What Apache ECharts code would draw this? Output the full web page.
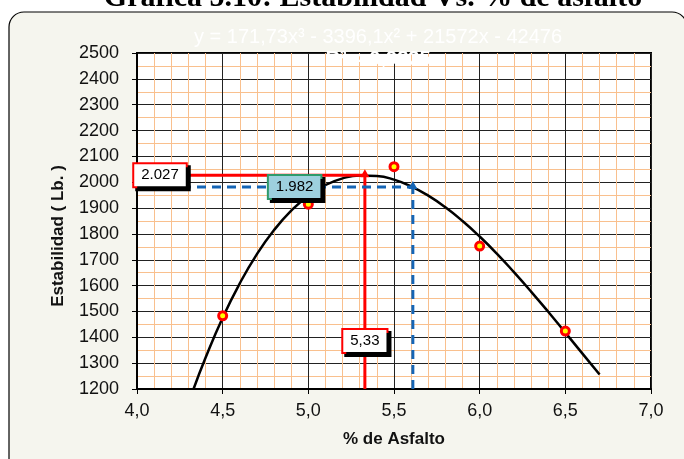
<!DOCTYPE html>
<html>
<head>
<meta charset="utf-8">
<script src="https://cdn.jsdelivr.net/npm/echarts@6/dist/echarts.min.js"></script>
<style>
  html, body { margin: 0; padding: 0; background: #ffffff; }
  #chart { width: 684px; height: 459px; }
</style>
</head>
<body>
<div id="chart"></div>
<script>
// Laboratory results: stability vs. asphalt content
const asphaltPct = [4.5, 5.0, 5.5, 6.0, 6.5];
const stability  = [1483, 1915, 2060, 1753, 1424];

// Cubic trend line
const trendPct  = [4.33, 4.4, 4.5, 4.6, 4.7, 4.8, 4.9, 5.0, 5.1, 5.2, 5.3, 5.4, 5.5,
                   5.6, 5.7, 5.8, 5.9, 6.0, 6.1, 6.2, 6.3, 6.4, 6.5, 6.6, 6.7];
const trendStab = [1200, 1321, 1476, 1609, 1722, 1815, 1890, 1948, 1989, 2015, 2026, 2024, 2010,
                   1984, 1948, 1903, 1850, 1790, 1724, 1652, 1577, 1499, 1418, 1337, 1256];

// Optimum asphalt content (max stability) and design stability
const optimumPct  = 5.33;
const optimumStab = 2027;
const designPct   = 5.61;
const designStab  = 1982;

// Axis settings
const xMin = 4, xMax = 7, xStep = 0.5;
const yMin = 1200, yMax = 2500, yStep = 100;

const equationText = 'y = 171,73x³ - 3396,1x² + 21572x - 42476';
const r2Text = 'R² = 0,9835';
const titleText = 'Gráfica 5.10: Estabilidad Vs. % de asfalto';

const SANS = '"Liberation Sans", Arial, sans-serif';
const SERIF = '"Liberation Serif", "Times New Roman", serif';

const fmtThousands = v => String(v).replace(/\B(?=(\d{3})+(?!\d))/g, '.');
const fmtDecimal = (v, d) => v.toFixed(d).replace('.', ',');

const boxLabel = (text, bg, border, offset) => ({
  show: true,
  position: 'inside',
  offset: offset || [0, 0],
  formatter: text,
  fontFamily: SANS,
  fontSize: 15,
  color: '#000',
  opacity: 1,
  backgroundColor: bg,
  borderColor: border,
  borderWidth: 2,
  padding: [4, 7, 3, 7],
  shadowColor: '#000',
  shadowBlur: 0,
  shadowOffsetX: 3,
  shadowOffsetY: 3
});

const chart = echarts.init(document.getElementById('chart'), null, { renderer: 'canvas' });

const option = {
  animation: false,
  backgroundColor: 'transparent',
  textStyle: { fontFamily: SANS },
  graphic: [
    {
      type: 'rect', z: -100, silent: true,
      shape: { x: 9, y: 12, width: 678, height: 500, r: 15 },
      style: { fill: '#f5f5ee', stroke: '#000', lineWidth: 1.2 }
    },
    {
      type: 'text', z: 100, silent: true, x: 373, y: -2,
      style: { text: titleText, font: 'bold 30px ' + SERIF, fill: '#000',
               align: 'center', verticalAlign: 'middle' }
    },
    {
      type: 'text', z: 100, silent: true, x: 378, y: 37,
      style: { text: equationText, font: '20px ' + SANS, fill: '#ffffff',
               align: 'center', verticalAlign: 'middle' }
    },
    {
      type: 'text', z: 100, silent: true, x: 378, y: 59,
      style: { text: r2Text, font: 'bold 20px ' + SANS, fill: '#ffffff',
               align: 'center', verticalAlign: 'middle' }
    },
    {
      type: 'text', z: 100, silent: true, x: 58, y: 236, rotation: Math.PI / 2,
      style: { text: 'Estabilidad ( Lb. )', font: 'bold 17px ' + SANS, fill: '#111',
               align: 'center', verticalAlign: 'middle' }
    }
  ],
  grid: {
    left: 137, right: 33, top: 53, bottom: 70,
    show: true, backgroundColor: '#ffffff', borderColor: '#000', borderWidth: 2
  },
  xAxis: {
    type: 'value', min: xMin, max: xMax, interval: xStep,
    name: '% de Asfalto', nameLocation: 'middle', nameGap: 42,
    nameTextStyle: { fontFamily: SANS, fontWeight: 'bold', fontSize: 17, color: '#111' },
    axisLine: { show: true, onZero: false, lineStyle: { color: '#000', width: 2 } },
    axisTick: { show: true, length: 5, lineStyle: { color: '#000', width: 1 } },
    axisLabel: { fontFamily: SANS, fontSize: 18, color: '#111', margin: 13,
                 formatter: v => fmtDecimal(v, 1) },
    splitLine: { show: true, lineStyle: { color: '#222', width: 1 } },
    minorTick: { show: false, splitNumber: 5 },
    minorSplitLine: { show: true, lineStyle: { color: '#f9c08e', width: 1 } }
  },
  yAxis: {
    type: 'value', min: yMin, max: yMax, interval: yStep,
    axisLine: { show: true, onZero: false, lineStyle: { color: '#000', width: 2 } },
    axisTick: { show: true, length: 5, lineStyle: { color: '#000', width: 1 } },
    axisLabel: { fontFamily: SANS, fontSize: 18, color: '#111', margin: 18,
                 formatter: v => String(v) },
    splitLine: { show: true, lineStyle: { color: '#222', width: 1 } },
    minorTick: { show: false, splitNumber: 2 },
    minorSplitLine: { show: true, lineStyle: { color: '#f9c08e', width: 1 } }
  },
  series: [
    {
      name: 'Tendencia', type: 'line', z: 3, smooth: true, showSymbol: false, silent: true,
      data: trendPct.map((x, i) => [x, trendStab[i]]),
      lineStyle: { color: '#000', width: 2.5 }
    },
    {
      name: 'Óptimo horizontal', type: 'line', z: 4, showSymbol: false, silent: true,
      data: [[xMin, optimumStab], [optimumPct, optimumStab]],
      lineStyle: { color: '#ff0000', width: 3 }
    },
    {
      name: 'Óptimo vertical', type: 'line', z: 4, showSymbol: true, silent: true,
      itemStyle: { color: '#ff0000' },
      data: [
        { value: [optimumPct, yMin], symbol: 'none' },
        { value: [optimumPct, optimumStab], symbol: 'triangle', symbolSize: [9, 8], symbolOffset: [0, -2] }
      ],
      lineStyle: { color: '#ff0000', width: 3 }
    },
    {
      name: 'Diseño horizontal', type: 'line', z: 4, showSymbol: false, silent: true,
      data: [[xMin, designStab], [designPct, designStab]],
      lineStyle: { color: '#1565b5', width: 3, type: [9, 6] }
    },
    {
      name: 'Diseño vertical', type: 'line', z: 4, showSymbol: true, silent: true,
      itemStyle: { color: '#1565b5' },
      data: [
        { value: [designPct, yMin], symbol: 'none' },
        { value: [designPct, designStab], symbol: 'triangle', symbolSize: [9, 8], symbolOffset: [0, -2] }
      ],
      lineStyle: { color: '#1565b5', width: 3, type: [9, 6] }
    },
    {
      name: 'Ensayos', type: 'scatter', z: 6, silent: true,
      symbol: 'circle', symbolSize: 8,
      data: asphaltPct.map((x, i) => [x, stability[i]]),
      itemStyle: { color: '#ffff00', borderColor: '#ff0000', borderWidth: 3, opacity: 1 }
    },
    {
      name: 'Etiquetas', type: 'scatter', z: 10, silent: true,
      symbol: 'circle', symbolSize: 0,
      itemStyle: { opacity: 1 },
      data: [
        { value: [xMin, optimumStab],
          label: boxLabel(fmtThousands(optimumStab), '#ffffff', '#ff0000', [23, 0]) },
        { value: [4.92, designStab],
          label: boxLabel(fmtThousands(designStab), '#9dd0de', '#2e9a6b') },
        { value: [optimumPct, 1386],
          label: boxLabel(fmtDecimal(optimumPct, 2), '#ffffff', '#ff0000') }
      ]
    }
  ]
};

chart.setOption(option);
</script>
</body>
</html>
